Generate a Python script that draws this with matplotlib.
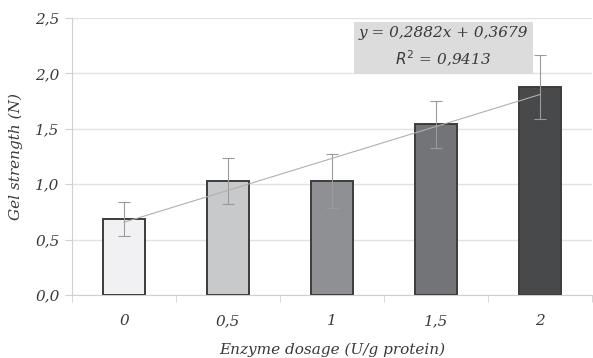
import matplotlib
matplotlib.use("Agg")
import matplotlib.pyplot as plt
import numpy as np

categories = ["0", "0,5", "1", "1,5", "2"]
values = [0.686, 1.03, 1.03, 1.54, 1.874]
errors = [0.155, 0.21, 0.245, 0.21, 0.29]
bar_colors = ["#f1f1f3", "#c8c9cb", "#8f9093", "#737477", "#48494b"]
slope, intercept = 0.2882, 0.3679
yticks = [0.0, 0.5, 1.0, 1.5, 2.0, 2.5]

font = "DejaVu Serif"
tcol = "#3a3a3a"

fig = plt.figure(figsize=(5.93, 3.58), dpi=100)
ax = fig.add_axes([0.1214, 0.176, 0.877, 0.774])

x = np.arange(len(categories))
ax.bar(x, values, width=0.41, color=bar_colors, edgecolor="#3c3c3c", linewidth=1.4, zorder=3)
ax.errorbar(x, values, yerr=errors, fmt="none", ecolor="#9a9a9a", elinewidth=0.8,
            capsize=4, capthick=0.8, zorder=4)

tx = np.array([x[0], x[-1]])
ax.plot(tx, slope * (tx + 1) + intercept, color="#b0b0b0", linewidth=0.8, zorder=5)

ax.set_xlim(-0.5, len(categories) - 0.5)
ax.set_ylim(0, 2.5)
ax.set_yticks(yticks)
ax.set_yticklabels([f"{v:.1f}".replace(".", ",") for v in yticks],
                   fontfamily=font, fontstyle="italic", fontsize=11, color=tcol)
ax.set_xticks(x)
ax.set_xticklabels(categories, fontfamily=font, fontstyle="italic", fontsize=11, color=tcol)
ax.set_xticks(np.arange(-0.5, len(categories) + 0.5, 1), minor=True)
ax.tick_params(axis="x", which="major", length=0, pad=14)
ax.tick_params(axis="x", which="minor", length=5, color="#d0d0d0", direction="out")
ax.tick_params(axis="y", length=5, color="#d0d0d0", pad=4)

ax.grid(axis="y", color="#e2e2e2", linewidth=1, zorder=0)
ax.set_axisbelow(True)
for s in ["top", "right"]:
    ax.spines[s].set_visible(False)
for s in ["left", "bottom"]:
    ax.spines[s].set_color("#d0d0d0")

ax.set_ylabel("Gel strength (N)", fontfamily=font, fontstyle="italic", fontsize=11, color=tcol, labelpad=9)
ax.set_xlabel("Enzyme dosage (U/g protein)", fontfamily=font, fontstyle="italic", fontsize=11, color=tcol, labelpad=10)

ax.text(0.714, 0.893, "y = 0,2882x + 0,3679\n$R^2$ = 0,9413", transform=ax.transAxes,
        ha="center", va="center", fontfamily=font, fontstyle="italic", fontsize=11,
        color=tcol, linespacing=1.55, zorder=6,
        bbox=dict(boxstyle="square,pad=0.3", facecolor="#dcdcdc", edgecolor="none"))

fig.savefig("out.png", dpi=100)
